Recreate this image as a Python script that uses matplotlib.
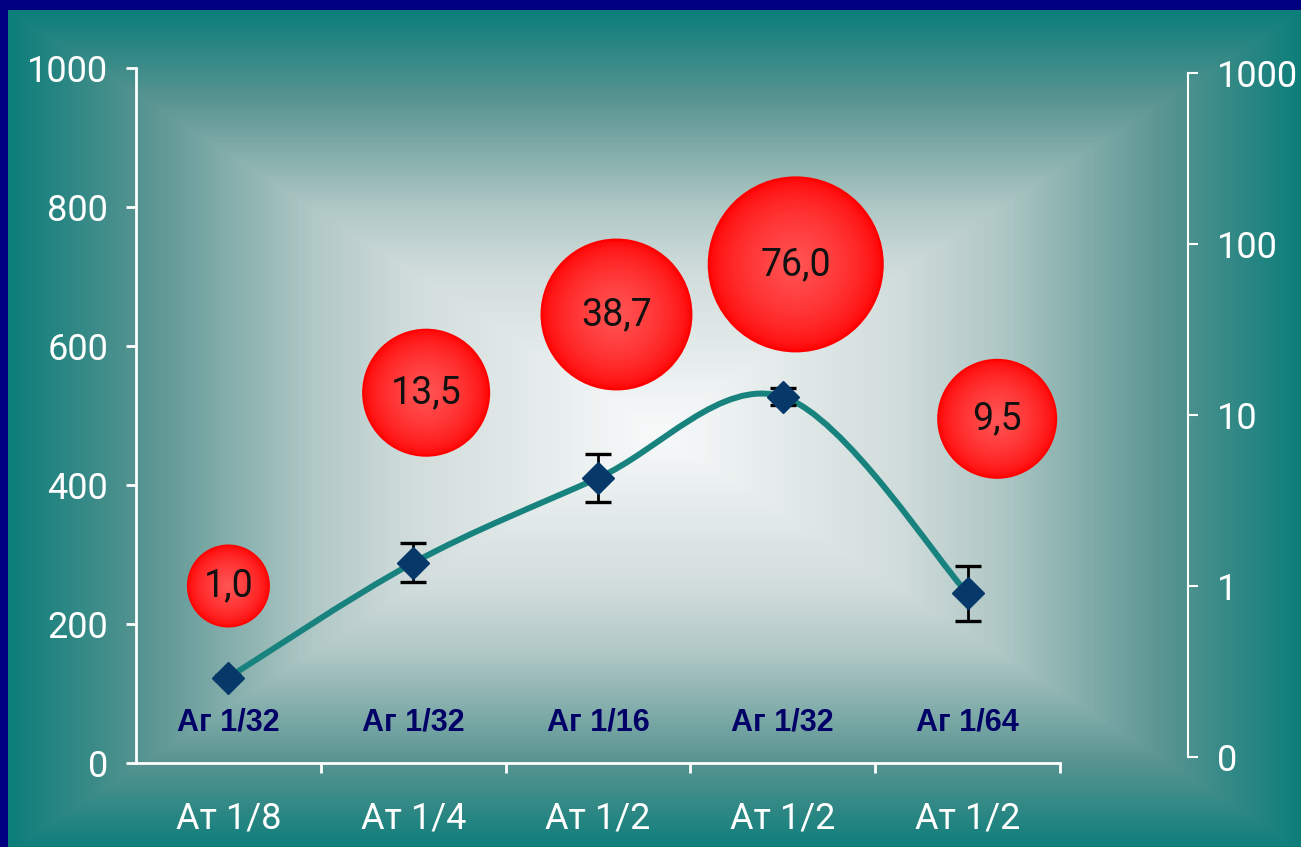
import numpy as np
import matplotlib.pyplot as plt
from matplotlib.path import Path
from matplotlib.patches import PathPatch
from matplotlib.ticker import NullLocator, FixedLocator
from matplotlib.colors import to_rgb, LinearSegmentedColormap

plt.rcParams['font.family'] = ['Roboto', 'DejaVu Sans']

# data
x_labels = ['Ат 1/8', 'Ат 1/4', 'Ат 1/2', 'Ат 1/2', 'Ат 1/2']
inner_labels = ['Аг 1/32', 'Аг 1/32', 'Аг 1/16', 'Аг 1/32', 'Аг 1/64']
line_values = [123, 288, 410, 527, 244]
line_errors = [3, 28, 34, 12, 39]
bubble_x = [0.0, 1.07, 2.10, 3.07, 4.16]
bubble_values = [1.0, 13.5, 38.7, 76.0, 9.5]
bubble_labels = ['1,0', '13,5', '38,7', '76,0', '9,5']
bubble_size = [1.0, 2.38, 3.35, 4.50, 2.09]
left_ticks = [0, 200, 400, 600, 800, 1000]
right_ticks = [0.1, 1, 10, 100, 1000]
right_tick_labels = ['0', '1', '10', '100', '1000']

W, H = 1301, 847
fig = plt.figure(figsize=(W / 100, H / 100), dpi=100)
fig.patch.set_facecolor('#000080')

# background: rectangular gradient from the centre
bg = fig.add_axes([8 / W, 0, 1 - 8 / W, (H - 10) / H])
bg.set_axis_off()
bw, bh = W - 8, H - 10
X, Y = np.meshgrid(np.arange(bw), np.arange(bh))
cx, cy = 647, 420
t = np.maximum(np.abs(X - cx) / 647.0, np.abs(Y - cy) / 420.0)
t = np.clip(t, 0, 1)
bg_cmap = LinearSegmentedColormap.from_list('bg', [
    (0.0, (248 / 255, 250 / 255, 250 / 255)),
    (0.38, (208 / 255, 220 / 255, 219 / 255)),
    (0.53, (176 / 255, 200 / 255, 198 / 255)),
    (0.79, (88 / 255, 148 / 255, 145 / 255)),
    (1.0, (12 / 255, 126 / 255, 122 / 255)),
])
bg.imshow(t, cmap=bg_cmap, vmin=0, vmax=1, extent=(0, bw, bh, 0), aspect='auto',
          interpolation='bilinear')
bg.set_xlim(0, bw)
bg.set_ylim(bh, 0)

# bubbles on the log (right) scale
bax = fig.add_axes([136 / W, (H - 757) / H, 924 / W, 684 / H])
bax.set_axis_off()
bax.set_yscale('log')
bax.set_ylim(0.1, 1000)
bax.set_xlim(-0.5, 4.5)
base = 3571.0
red = np.array(to_rgb('#FF0000'))
pink = np.array(to_rgb('#FF5656'))
n_layers = 30
for k in range(n_layers):
    f = 1 - k / n_layers
    w = (1 - f) ** 0.6
    c = red * (1 - w) + pink * w
    bax.scatter(bubble_x, bubble_values, s=np.array(bubble_size) * base * f ** 2,
                color=c, edgecolors='none', zorder=2)
for bx, bv, bl in zip(bubble_x, bubble_values, bubble_labels):
    bax.text(bx, bv, bl, ha='center', va='center', fontsize=27, color='#111111',
             zorder=5)

# main axis
ax = fig.add_axes([136 / W, (H - 763) / H, 924 / W, 695 / H])
ax.patch.set_alpha(0)
ax.set_xlim(-0.5, 4.5)
ax.set_ylim(0, 1000)
for s in ['top', 'right']:
    ax.spines[s].set_visible(False)
for s in ['left', 'bottom']:
    ax.spines[s].set_color('white')
    ax.spines[s].set_linewidth(2)
ax.set_yticks(left_ticks)
ax.set_xticks(range(len(x_labels)))
ax.set_xticklabels(x_labels)
ax.xaxis.set_minor_locator(FixedLocator([0.5, 1.5, 2.5, 3.5, 4.5]))
ax.tick_params(axis='y', colors='white', labelsize=26, length=7, width=2, pad=13)
ax.tick_params(axis='x', which='major', colors='white', labelsize=26, length=0, pad=27)
ax.tick_params(axis='x', which='minor', colors='white', length=7, width=2)

# smoothed line (bezier through the points)
pts = np.column_stack([np.arange(len(line_values)), line_values]).astype(float)
ext = np.vstack([pts[0], pts, pts[-1]])
verts = [tuple(pts[0])]
codes = [Path.MOVETO]
for i in range(len(pts) - 1):
    p0, p1, p2, p3 = ext[i], ext[i + 1], ext[i + 2], ext[i + 3]
    c1 = p1 + (p2 - p0) / 6
    c2 = p2 - (p3 - p1) / 6
    verts += [tuple(c1), tuple(c2), tuple(p2)]
    codes += [Path.CURVE4] * 3
ax.add_patch(PathPatch(Path(verts, codes), fill=False, ec='#17827E', lw=4.3,
                       capstyle='round', zorder=3))
ax.errorbar(range(len(line_values)), line_values, yerr=line_errors, fmt='D', ms=16,
            mfc='#06396A', mec='#06396A', ecolor='black', elinewidth=2,
            capsize=9.5, capthick=2.4, zorder=4)

for i, lab in enumerate(inner_labels):
    ax.text(i, 58, lab, ha='center', va='center', color='#000066', fontsize=22,
            fontweight='bold', family=['Liberation Sans', 'DejaVu Sans'])

# right log axis
rax = fig.add_axes([1100 / W, (H - 757) / H, 88 / W, 684 / H], sharey=bax)
rax.patch.set_alpha(0)
for s in ['top', 'left', 'bottom']:
    rax.spines[s].set_visible(False)
rax.spines['right'].set_color('white')
rax.spines['right'].set_linewidth(1.5)
rax.set_xticks([])
rax.yaxis.tick_right()
rax.yaxis.set_major_locator(FixedLocator(right_ticks))
rax.yaxis.set_minor_locator(NullLocator())
rax.set_yticklabels(right_tick_labels)
rax.tick_params(axis='y', colors='white', labelsize=26, length=7, width=1.5, pad=14)

fig.savefig('out.png', dpi=100, facecolor=fig.get_facecolor())
